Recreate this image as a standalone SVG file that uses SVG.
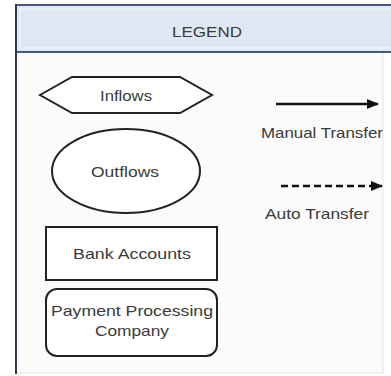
<svg xmlns="http://www.w3.org/2000/svg" width="391" height="376" viewBox="0 0 391 376">
<style>
.t{font-family:"Liberation Sans",Arial,sans-serif;font-size:15px;fill:#3a3a3a;text-anchor:middle}
.s{fill:#fff;stroke:#222;stroke-width:2}
.c{stroke:#111;stroke-width:2.5;fill:none}
</style>
<defs>
<marker id="ah" viewBox="0 0 12 10" refX="11" refY="5" markerWidth="12" markerHeight="10" orient="auto" markerUnits="userSpaceOnUse">
<path d="M0,0 L12,5 L0,10 z" fill="#111"/>
</marker>
</defs>
<rect x="0" y="0" width="391" height="376" fill="#fff"/>
<g id="frame">
<rect x="16" y="52" width="367" height="321" fill="#fbfbfb" stroke="#e4e4e4" stroke-width="1"/>
<rect x="16" y="5" width="380" height="47" fill="#dfe7f3" stroke="#4a5878" stroke-width="2"/>
<rect x="20" y="9" width="380" height="39" fill="none" stroke="#eef2f9" stroke-width="1.5"/>
<line x1="16" y1="4" x2="16" y2="374" stroke="#333a4a" stroke-width="2"/>
<text class="t" x="207" y="37" textLength="70" lengthAdjust="spacingAndGlyphs">LEGEND</text>
</g>
<g id="inflows">
<polygon class="s" points="40,95 72,77 180,77 212,95 180,113 72,113"/>
<text class="t" x="126" y="101" textLength="52" lengthAdjust="spacingAndGlyphs">Inflows</text>
</g>
<g id="outflows">
<ellipse class="s" cx="126" cy="171" rx="74" ry="42"/>
<text class="t" x="125" y="177" textLength="68" lengthAdjust="spacingAndGlyphs">Outflows</text>
</g>
<g id="bank">
<rect class="s" x="46" y="227" width="171" height="53"/>
<text class="t" x="132" y="259" textLength="118" lengthAdjust="spacingAndGlyphs">Bank Accounts</text>
</g>
<g id="ppc">
<rect class="s" x="46" y="289" width="171" height="67" rx="11" ry="11"/>
<text class="t" x="132" y="316" textLength="162" lengthAdjust="spacingAndGlyphs">Payment Processing</text>
<text class="t" x="132" y="336" textLength="74" lengthAdjust="spacingAndGlyphs">Company</text>
</g>
<g id="connectors">
<line class="c" x1="276" y1="104" x2="378" y2="104" marker-end="url(#ah)"/>
<line class="c" x1="281" y1="186" x2="382" y2="186" stroke-dasharray="7,4" marker-end="url(#ah)"/>
</g>
<g id="labels">
<text class="t" x="322" y="138" textLength="122" lengthAdjust="spacingAndGlyphs">Manual Transfer</text>
<text class="t" x="317" y="219" textLength="104" lengthAdjust="spacingAndGlyphs">Auto Transfer</text>
</g>
</svg>
